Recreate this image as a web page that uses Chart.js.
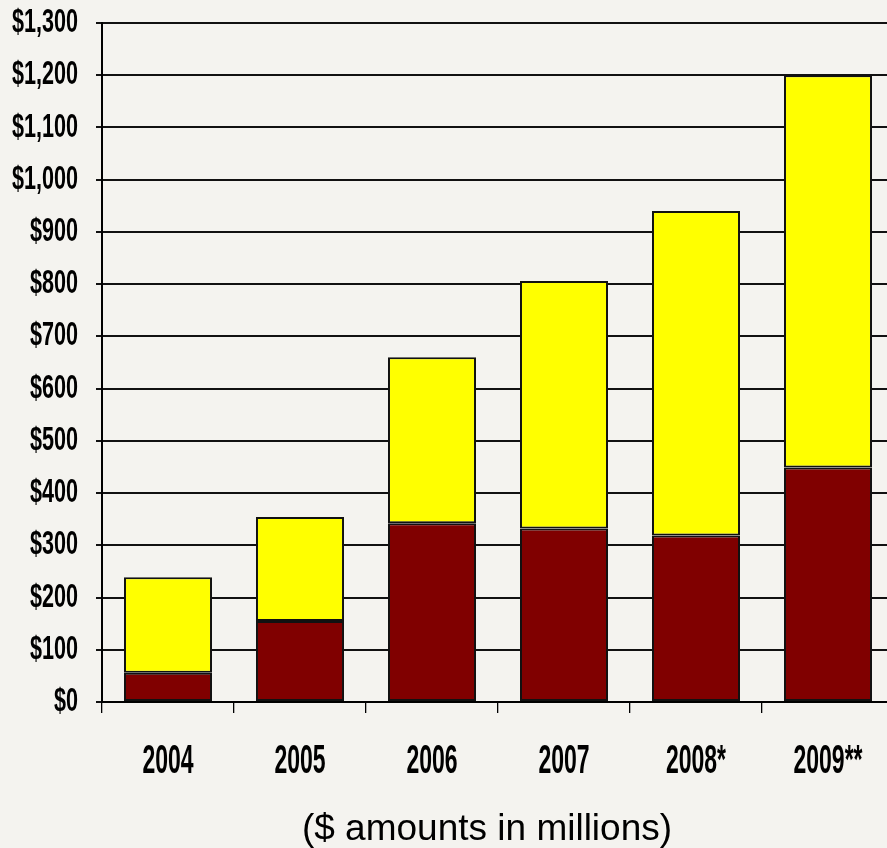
<!DOCTYPE html>
<html>
<head>
<meta charset="utf-8">
<script src="https://cdn.jsdelivr.net/npm/chart.js@4/dist/chart.umd.min.js"></script>
<style>
  html, body { margin: 0; padding: 0; background: #F4F3EF; overflow: hidden; }
  canvas { display: block; }
</style>
</head>
<body>
<canvas id="c" width="894" height="848"></canvas>
<script>
const categories = ['2004', '2005', '2006', '2007', '2008*', '2009**'];
const lowerValues = [56, 155, 342, 332, 319, 449];
const upperValues = [183, 199, 318, 474, 621, 751];
const yTicks = [0, 100, 200, 300, 400, 500, 600, 700, 800, 900, 1000, 1100, 1200, 1300];
const titleText = '($ amounts in millions)';

const labelFont = '"Liberation Sans", Arial, sans-serif';
const Y_LABEL_SX = 0.654;   // horizontal condensing of y labels (narrow face look)
const X_LABEL_SY = 1.8;     // vertical stretching of x labels (narrow face look)

// Gives the tick labels the tall, condensed look of the original's narrow bold face.
const narrowLook = {
  id: 'narrowLook',
  afterLayout(chart) {
    const ys = chart.scales.y, xs = chart.scales.x;
    if (!ys._narrowed) {
      const orig = Object.getPrototypeOf(ys).drawLabels;
      ys.drawLabels = function (area) {
        const ctx = this.ctx;
        const ax = this.right - this.options.grid.tickLength - this.options.ticks.padding;
        const savedLeft = this.left;
        this.left = -2000; // keep the label clip box wide enough under the transform
        ctx.save();
        ctx.translate(ax, 0); ctx.scale(Y_LABEL_SX, 1); ctx.translate(-ax, 0);
        orig.call(this, area);
        ctx.restore();
        this.left = savedLeft;
      };
      ys._narrowed = true;
    }
    if (!xs._narrowed) {
      const orig = Object.getPrototypeOf(xs).drawLabels;
      xs.drawLabels = function (area) {
        const ctx = this.ctx;
        const f = this.options.ticks.font;
        const yc = this.top + this.options.grid.tickLength + this.options.ticks.padding + f.size * 1.2 / 2;
        ctx.save();
        ctx.translate(0, yc); ctx.scale(1, X_LABEL_SY); ctx.translate(0, -yc);
        orig.call(this, area);
        ctx.restore();
      };
      xs._narrowed = true;
    }
    // the caption in the original sits slightly left of the plot centre
    if (chart.titleBlock) { chart.titleBlock.left = 80; }
  }
};

new Chart(document.getElementById('c'), {
  type: 'bar',
  data: {
    labels: categories,
    datasets: [
      { data: lowerValues, backgroundColor: '#800000', borderColor: '#111', borderWidth: 2, borderSkipped: false,
        barPercentage: 0.667, categoryPercentage: 1.0 },
      { data: upperValues, backgroundColor: '#FFFF00', borderColor: '#111', borderWidth: 2, borderSkipped: false,
        barPercentage: 0.667, categoryPercentage: 1.0 }
    ]
  },
  plugins: [narrowLook],
  options: {
    responsive: false,
    devicePixelRatio: 1,
    animation: false,
    layout: { padding: { top: 23, left: 0, right: 0, bottom: 0 } },
    plugins: {
      legend: { display: false },
      tooltip: { enabled: false },
      title: {
        display: true,
        position: 'bottom',
        fullSize: false,
        text: titleText,
        color: '#000',
        font: { family: '"Liberation Sans", Arial, sans-serif', size: 37, weight: 'normal', lineHeight: 1.0 },
        padding: { top: 11, bottom: 0 }
      }
    },
    scales: {
      x: {
        stacked: true,
        afterFit: (s) => { s.height = 98; s.paddingLeft = 0; s.paddingRight = 0; },
        grid: { offset: true, drawOnChartArea: false, drawTicks: true, tickLength: 11, color: '#000', lineWidth: 1.3 },
        border: { display: true, color: '#000', width: 2 },
        ticks: { color: '#000', padding: 35, maxRotation: 0, autoSkip: false,
                 font: { family: labelFont, size: 23, weight: 'bold' } }
      },
      y: {
        stacked: true,
        min: 0,
        max: 1300,
        afterFit: (s) => { s.width = 102; s.paddingTop = 0; s.paddingBottom = 0; },
        afterBuildTicks: (s) => { s.ticks = yTicks.map(v => ({ value: v })); },
        grid: { color: '#111', lineWidth: 2, drawTicks: true, tickLength: 6 },
        border: { display: true, color: '#000', width: 2 },
        ticks: {
          color: '#000', padding: 18,
          font: { family: labelFont, size: 33, weight: 'bold' },
          callback: (v) => '$' + Number(v).toLocaleString('en-US')
        }
      }
    }
  }
});
</script>
</body>
</html>
